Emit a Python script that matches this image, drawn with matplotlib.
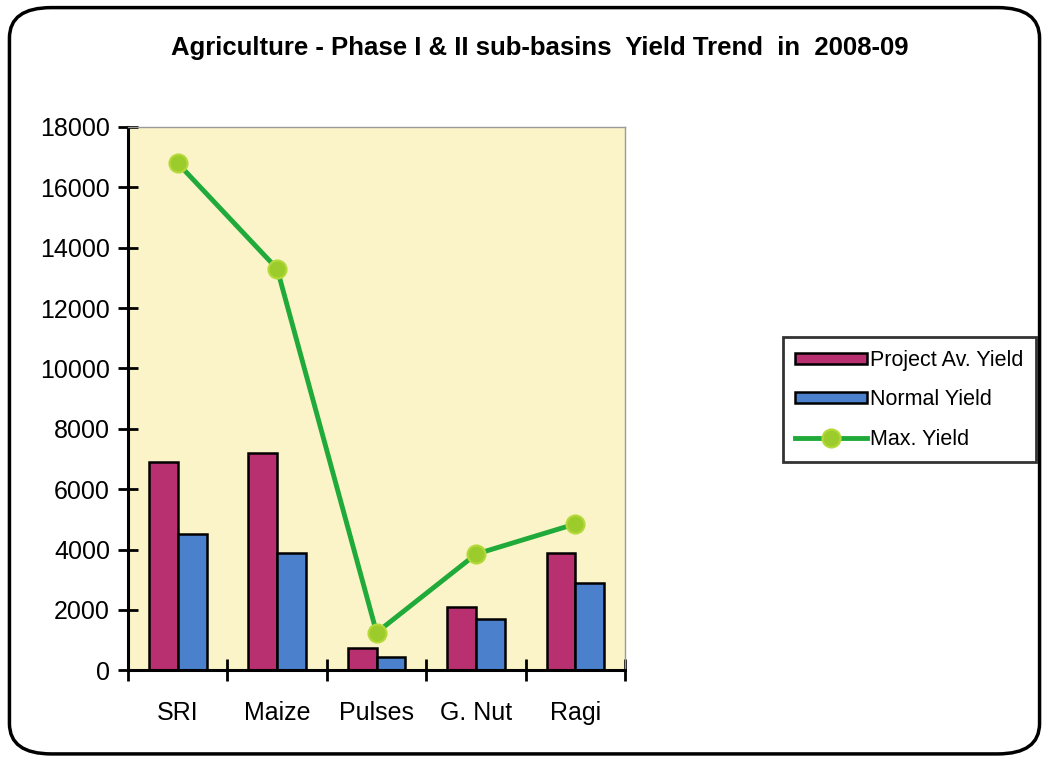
import matplotlib

matplotlib.use("Agg")
import matplotlib.pyplot as plt
import numpy as np
from matplotlib.patches import FancyBboxPatch

plt.rcParams["font.family"] = ["Liberation Sans", "DejaVu Sans"]

crops = ["SRI", "Maize", "Pulses", "G. Nut", "Ragi"]
project_yield = [6900, 7200, 750, 2100, 3900]
normal_yield = [4500, 3900, 450, 1700, 2900]
max_yield = [16800, 13300, 1250, 3850, 4850]

PROJ = "#B8306F"
NORM = "#4A80CC"
LINE = "#1FAA3A"
MARK = "#9CCB2C"
PLOT_BG = "#FAF4C8"

fig = plt.figure(figsize=(10.49, 7.6), dpi=100, facecolor="white")
ax = fig.add_axes([0.122, 0.118, 0.474, 0.715])
ax.set_facecolor(PLOT_BG)

x = np.arange(len(crops))
w = 0.29
b1 = ax.bar(x - w / 2, project_yield, w, color=PROJ, edgecolor="black",
            linewidth=1.8, label="Project Av. Yield", zorder=2)
b2 = ax.bar(x + w / 2, normal_yield, w, color=NORM, edgecolor="black",
            linewidth=1.8, label="Normal Yield", zorder=2)
ln, = ax.plot(x, max_yield, color=LINE, linewidth=3.5, marker="o",
              markersize=13, markerfacecolor=MARK, markeredgecolor="#B5D93A",
              markeredgewidth=1.5, label="Max. Yield", zorder=3)

ax.set_xlim(-0.5, len(crops) - 0.5)
ax.set_ylim(0, 18000)
ax.set_yticks(np.arange(0, 18001, 2000))
ax.set_xticks(x)
ax.set_xticklabels(crops)
ax.set_xticks(np.arange(-0.5, len(crops), 1), minor=True)
ax.tick_params(axis="x", which="major", length=0, labelsize=18, pad=22)
ax.tick_params(axis="x", which="minor", direction="inout", length=16,
               width=2)
ax.tick_params(axis="y", direction="inout", length=14, width=2,
               labelsize=18, pad=6)

for side in ("left", "bottom"):
    ax.spines[side].set_linewidth(2.2)
    ax.spines[side].set_color("black")
for side in ("top", "right"):
    ax.spines[side].set_linewidth(1)
    ax.spines[side].set_color("#9a9a9a")

fig.text(0.515, 0.937,
         "Agriculture - Phase I & II sub-basins  Yield Trend  in  2008-09",
         ha="center", va="center", fontsize=18.5, weight="bold")

leg = fig.legend(handles=[b1, b2, ln], loc="center left",
                 bbox_to_anchor=(0.746, 0.474),
                 fontsize=15.5, frameon=True, fancybox=False,
                 handlelength=3.3, handleheight=0.45, handletextpad=0.15,
                 labelspacing=0.85, borderpad=0.6, borderaxespad=0)
leg.get_frame().set_edgecolor("black")
leg.get_frame().set_linewidth(2)

border = FancyBboxPatch((0.009, 0.008), 0.982, 0.982,
                        boxstyle="round,pad=0,rounding_size=0.04",
                        transform=fig.transFigure, fill=False,
                        edgecolor="black", linewidth=2.5)
fig.patches.append(border)

fig.savefig("out.png", dpi=100, facecolor="white")
